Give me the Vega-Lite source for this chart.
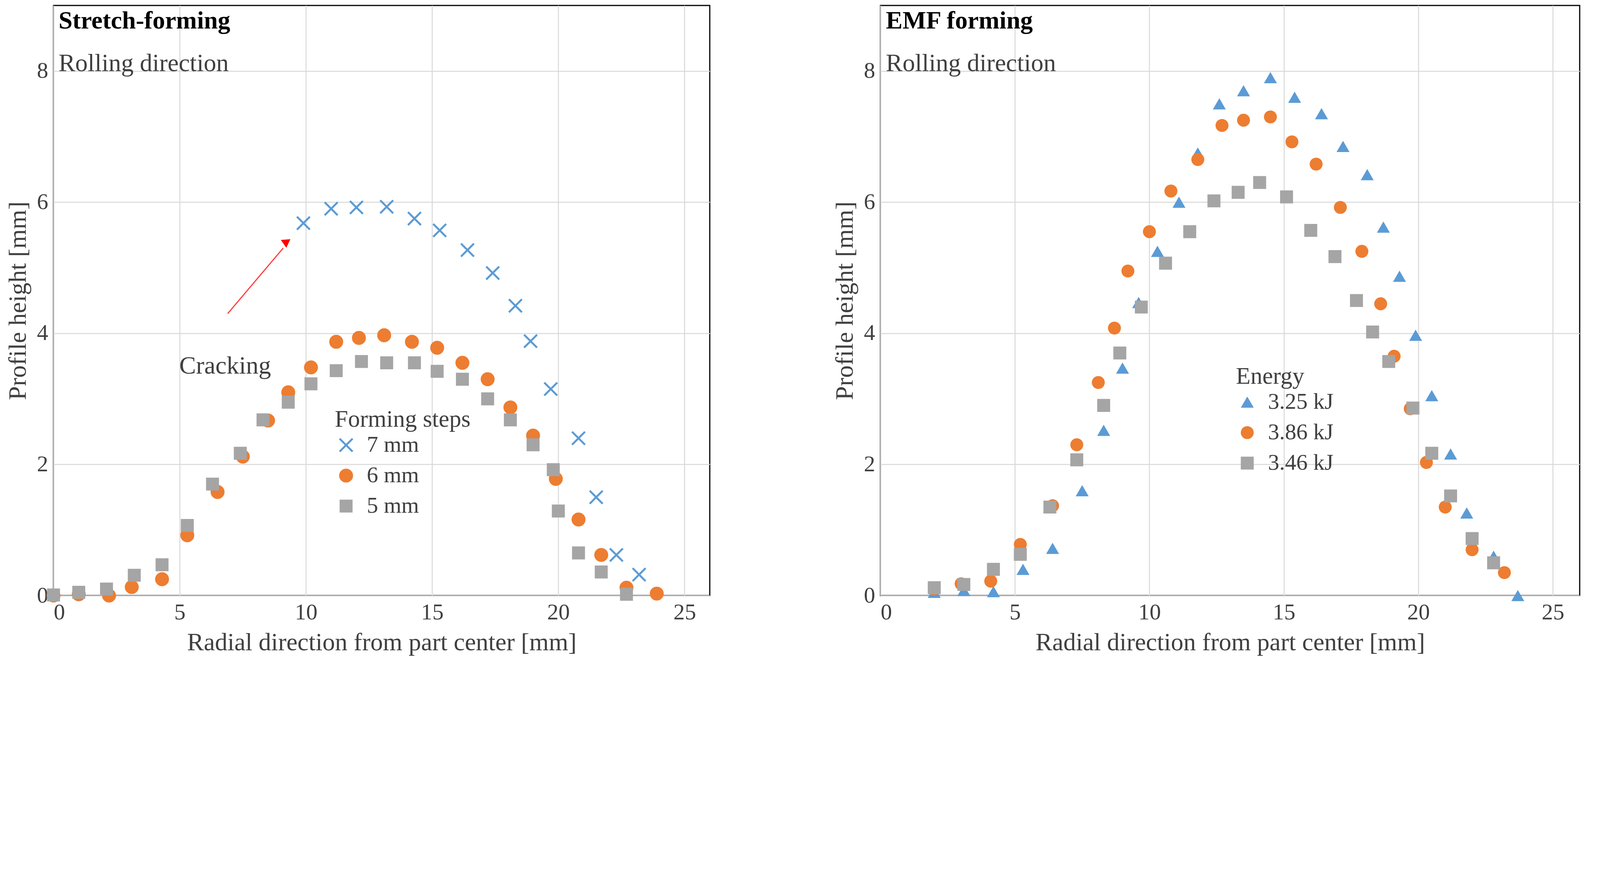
{
"$schema":"https://vega.github.io/schema/vega-lite/v6.json",
"background":"white",
"padding":{"left":12,"top":12,"right":8,"bottom":8},
"config":{"font":"Liberation Serif","view":{"stroke":"black","strokeWidth":3},
"axis":{"labelFont":"Liberation Serif","titleFont":"Liberation Serif","labelFontSize":58,"titleFontSize":64,"titleFontWeight":"normal","labelColor":"#404040","titleColor":"#404040","gridColor":"#d9d9d9","gridWidth":2.5,"domain":false,"ticks":false,"labelPadding":14,"titlePadding":16,"format":"d"},
"legend":{"labelFont":"Liberation Serif","titleFont":"Liberation Serif","labelFontSize":58,"titleFontSize":61,"titleFontWeight":"normal","labelColor":"#404040","titleColor":"#404040","symbolSize":1100,"rowPadding":20,"symbolStrokeWidth":5,"labelOffset":24,"labelLimit":800,"titleLimit":800}},
"spacing":310,
"datasets":{
"left":[
{"s":"7 mm","x":9.9,"y":5.68},{"s":"7 mm","x":11.0,"y":5.9},{"s":"7 mm","x":12.0,"y":5.92},{"s":"7 mm","x":13.2,"y":5.93},{"s":"7 mm","x":14.3,"y":5.75},{"s":"7 mm","x":15.3,"y":5.57},{"s":"7 mm","x":16.4,"y":5.27},{"s":"7 mm","x":17.4,"y":4.92},{"s":"7 mm","x":18.3,"y":4.42},{"s":"7 mm","x":18.9,"y":3.88},{"s":"7 mm","x":19.7,"y":3.15},{"s":"7 mm","x":20.8,"y":2.4},{"s":"7 mm","x":21.5,"y":1.5},{"s":"7 mm","x":22.3,"y":0.62},{"s":"7 mm","x":23.2,"y":0.32},
{"s":"6 mm","x":0,"y":0},{"s":"6 mm","x":1.0,"y":0.02},{"s":"6 mm","x":2.2,"y":0},{"s":"6 mm","x":3.1,"y":0.13},{"s":"6 mm","x":4.3,"y":0.25},{"s":"6 mm","x":5.3,"y":0.92},{"s":"6 mm","x":6.5,"y":1.58},{"s":"6 mm","x":7.5,"y":2.12},{"s":"6 mm","x":8.5,"y":2.67},{"s":"6 mm","x":9.3,"y":3.1},{"s":"6 mm","x":10.2,"y":3.48},{"s":"6 mm","x":11.2,"y":3.87},{"s":"6 mm","x":12.1,"y":3.93},{"s":"6 mm","x":13.1,"y":3.97},{"s":"6 mm","x":14.2,"y":3.87},{"s":"6 mm","x":15.2,"y":3.78},{"s":"6 mm","x":16.2,"y":3.55},{"s":"6 mm","x":17.2,"y":3.3},{"s":"6 mm","x":18.1,"y":2.87},{"s":"6 mm","x":19.0,"y":2.44},{"s":"6 mm","x":19.9,"y":1.78},{"s":"6 mm","x":20.8,"y":1.16},{"s":"6 mm","x":21.7,"y":0.62},{"s":"6 mm","x":22.7,"y":0.12},{"s":"6 mm","x":23.9,"y":0.03},
{"s":"5 mm","x":0,"y":0.01},{"s":"5 mm","x":1.0,"y":0.05},{"s":"5 mm","x":2.1,"y":0.1},{"s":"5 mm","x":3.2,"y":0.31},{"s":"5 mm","x":4.3,"y":0.47},{"s":"5 mm","x":5.3,"y":1.07},{"s":"5 mm","x":6.3,"y":1.7},{"s":"5 mm","x":7.4,"y":2.17},{"s":"5 mm","x":8.3,"y":2.68},{"s":"5 mm","x":9.3,"y":2.95},{"s":"5 mm","x":10.2,"y":3.23},{"s":"5 mm","x":11.2,"y":3.43},{"s":"5 mm","x":12.2,"y":3.57},{"s":"5 mm","x":13.2,"y":3.55},{"s":"5 mm","x":14.3,"y":3.55},{"s":"5 mm","x":15.2,"y":3.42},{"s":"5 mm","x":16.2,"y":3.3},{"s":"5 mm","x":17.2,"y":3.0},{"s":"5 mm","x":18.1,"y":2.68},{"s":"5 mm","x":19.0,"y":2.3},{"s":"5 mm","x":19.8,"y":1.92},{"s":"5 mm","x":20.0,"y":1.29},{"s":"5 mm","x":20.8,"y":0.65},{"s":"5 mm","x":21.7,"y":0.36},{"s":"5 mm","x":22.7,"y":0.02}],
"right":[
{"s":"3.25 kJ","x":2.0,"y":0.05},{"s":"3.25 kJ","x":3.1,"y":0.08},{"s":"3.25 kJ","x":4.2,"y":0.06},{"s":"3.25 kJ","x":5.3,"y":0.4},{"s":"3.25 kJ","x":6.4,"y":0.72},{"s":"3.25 kJ","x":7.5,"y":1.6},{"s":"3.25 kJ","x":8.3,"y":2.52},{"s":"3.25 kJ","x":9.0,"y":3.47},{"s":"3.25 kJ","x":9.6,"y":4.47},{"s":"3.25 kJ","x":10.3,"y":5.25},{"s":"3.25 kJ","x":11.1,"y":6.0},{"s":"3.25 kJ","x":11.8,"y":6.75},{"s":"3.25 kJ","x":12.6,"y":7.5},{"s":"3.25 kJ","x":13.5,"y":7.7},{"s":"3.25 kJ","x":14.5,"y":7.9},{"s":"3.25 kJ","x":15.4,"y":7.6},{"s":"3.25 kJ","x":16.4,"y":7.35},{"s":"3.25 kJ","x":17.2,"y":6.85},{"s":"3.25 kJ","x":18.1,"y":6.42},{"s":"3.25 kJ","x":18.7,"y":5.62},{"s":"3.25 kJ","x":19.3,"y":4.87},{"s":"3.25 kJ","x":19.9,"y":3.97},{"s":"3.25 kJ","x":20.5,"y":3.05},{"s":"3.25 kJ","x":21.2,"y":2.16},{"s":"3.25 kJ","x":21.8,"y":1.26},{"s":"3.25 kJ","x":22.8,"y":0.6},{"s":"3.25 kJ","x":23.7,"y":0.0},
{"s":"3.86 kJ","x":2.0,"y":0.1},{"s":"3.86 kJ","x":3.0,"y":0.18},{"s":"3.86 kJ","x":4.1,"y":0.22},{"s":"3.86 kJ","x":5.2,"y":0.78},{"s":"3.86 kJ","x":6.4,"y":1.37},{"s":"3.86 kJ","x":7.3,"y":2.3},{"s":"3.86 kJ","x":8.1,"y":3.25},{"s":"3.86 kJ","x":8.7,"y":4.08},{"s":"3.86 kJ","x":9.2,"y":4.95},{"s":"3.86 kJ","x":10.0,"y":5.55},{"s":"3.86 kJ","x":10.8,"y":6.17},{"s":"3.86 kJ","x":11.8,"y":6.65},{"s":"3.86 kJ","x":12.7,"y":7.17},{"s":"3.86 kJ","x":13.5,"y":7.25},{"s":"3.86 kJ","x":14.5,"y":7.3},{"s":"3.86 kJ","x":15.3,"y":6.92},{"s":"3.86 kJ","x":16.2,"y":6.58},{"s":"3.86 kJ","x":17.1,"y":5.92},{"s":"3.86 kJ","x":17.9,"y":5.25},{"s":"3.86 kJ","x":18.6,"y":4.45},{"s":"3.86 kJ","x":19.1,"y":3.65},{"s":"3.86 kJ","x":19.7,"y":2.85},{"s":"3.86 kJ","x":20.3,"y":2.03},{"s":"3.86 kJ","x":21.0,"y":1.35},{"s":"3.86 kJ","x":22.0,"y":0.7},{"s":"3.86 kJ","x":23.2,"y":0.35},
{"s":"3.46 kJ","x":2.0,"y":0.12},{"s":"3.46 kJ","x":3.1,"y":0.17},{"s":"3.46 kJ","x":4.2,"y":0.4},{"s":"3.46 kJ","x":5.2,"y":0.63},{"s":"3.46 kJ","x":6.3,"y":1.35},{"s":"3.46 kJ","x":7.3,"y":2.07},{"s":"3.46 kJ","x":8.3,"y":2.9},{"s":"3.46 kJ","x":8.9,"y":3.7},{"s":"3.46 kJ","x":9.7,"y":4.4},{"s":"3.46 kJ","x":10.6,"y":5.07},{"s":"3.46 kJ","x":11.5,"y":5.55},{"s":"3.46 kJ","x":12.4,"y":6.02},{"s":"3.46 kJ","x":13.3,"y":6.15},{"s":"3.46 kJ","x":14.1,"y":6.3},{"s":"3.46 kJ","x":15.1,"y":6.08},{"s":"3.46 kJ","x":16.0,"y":5.57},{"s":"3.46 kJ","x":16.9,"y":5.17},{"s":"3.46 kJ","x":17.7,"y":4.5},{"s":"3.46 kJ","x":18.3,"y":4.02},{"s":"3.46 kJ","x":18.9,"y":3.57},{"s":"3.46 kJ","x":19.8,"y":2.86},{"s":"3.46 kJ","x":20.5,"y":2.17},{"s":"3.46 kJ","x":21.2,"y":1.52},{"s":"3.46 kJ","x":22.0,"y":0.87},{"s":"3.46 kJ","x":22.8,"y":0.5}],
"one":[{"a":1}]
},
"hconcat":[
{"width":1680,"height":1510,
"layer":[
{"data":{"name":"left"},"mark":{"type":"point","filled":true,"opacity":1,"size":1100},
"encoding":{"x":{"field":"x","type":"quantitative","scale":{"domain":[0,25]},"axis":{"values":[0,5,10,15,20,25]},"title":"Radial direction from part center [mm]"},
"y":{"field":"y","type":"quantitative","scale":{"domain":[0,9]},"axis":{"values":[0,2,4,6,8]},"title":"Profile height [mm]"},
"color":{"field":"s","type":"nominal","scale":{"domain":["7 mm","6 mm","5 mm"],"range":["#5B9BD5","#ED7D31","#A5A5A5"]},"title":"Forming steps","legend":{"orient":"none","legendX":720,"legendY":1030}},
"stroke":{"field":"s","type":"nominal","scale":{"domain":["7 mm","6 mm","5 mm"],"range":["#5B9BD5","#ED7D31","#A5A5A5"]},"title":"Forming steps","legend":{"orient":"none","legendX":720,"legendY":1030}},
"strokeWidth":{"field":"s","type":"nominal","scale":{"domain":["7 mm","6 mm","5 mm"],"range":[5,0,0]},"legend":null},
"shape":{"field":"s","type":"nominal","scale":{"domain":["7 mm","6 mm","5 mm"],"range":["M-1,-1L1,1M1,-1L-1,1","circle","square"]},"title":"Forming steps","legend":{"orient":"none","legendX":720,"legendY":1030}}}},
{"data":{"name":"one"},"mark":{"type":"text","align":"left","baseline":"top","fontSize":64,"fontWeight":"bold","color":"black"},"encoding":{"x":{"datum":0.2},"y":{"datum":8.95},"text":{"value":"Stretch-forming"}}},
{"data":{"name":"one"},"mark":{"type":"text","align":"left","baseline":"top","fontSize":64,"color":"#404040"},"encoding":{"x":{"datum":0.2},"y":{"datum":8.3},"text":{"value":"Rolling direction"}}},
{"data":{"name":"one"},"mark":{"type":"text","align":"center","baseline":"middle","fontSize":64,"color":"#404040"},"encoding":{"x":{"datum":6.8},"y":{"datum":3.5},"text":{"value":"Cracking"}}},
{"data":{"name":"one"},"mark":{"type":"rule","color":"#FF4040","strokeWidth":3},"encoding":{"x":{"datum":6.9},"y":{"datum":4.3},"x2":{"datum":9.1},"y2":{"datum":5.3}}},
{"data":{"name":"one"},"mark":{"type":"point","shape":"triangle-up","filled":true,"color":"red","size":600,"angle":55,"opacity":1},"encoding":{"x":{"datum":9.25},"y":{"datum":5.4}}}
]},
{"width":1790,"height":1510,
"layer":[
{"data":{"name":"right"},"mark":{"type":"point","filled":true,"opacity":1,"size":1100},
"encoding":{"x":{"field":"x","type":"quantitative","scale":{"domain":[0,25]},"axis":{"values":[0,5,10,15,20,25]},"title":"Radial direction from part center [mm]"},
"y":{"field":"y","type":"quantitative","scale":{"domain":[0,9]},"axis":{"values":[0,2,4,6,8]},"title":"Profile height [mm]"},
"color":{"field":"s","type":"nominal","scale":{"domain":["3.25 kJ","3.86 kJ","3.46 kJ"],"range":["#5B9BD5","#ED7D31","#A5A5A5"]},"title":"Energy","legend":{"orient":"none","legendX":910,"legendY":920}},
"shape":{"field":"s","type":"nominal","scale":{"domain":["3.25 kJ","3.86 kJ","3.46 kJ"],"range":["triangle-up","circle","square"]},"title":"Energy","legend":{"orient":"none","legendX":910,"legendY":920}}}},
{"data":{"name":"one"},"mark":{"type":"text","align":"left","baseline":"top","fontSize":64,"fontWeight":"bold","color":"black"},"encoding":{"x":{"datum":0.2},"y":{"datum":8.95},"text":{"value":"EMF forming"}}},
{"data":{"name":"one"},"mark":{"type":"text","align":"left","baseline":"top","fontSize":64,"color":"#404040"},"encoding":{"x":{"datum":0.2},"y":{"datum":8.3},"text":{"value":"Rolling direction"}}}
]}
],
"resolve":{"scale":{"color":"independent","shape":"independent","stroke":"independent","strokeWidth":"independent"},"legend":{"color":"independent","shape":"independent","stroke":"independent"}}
}
